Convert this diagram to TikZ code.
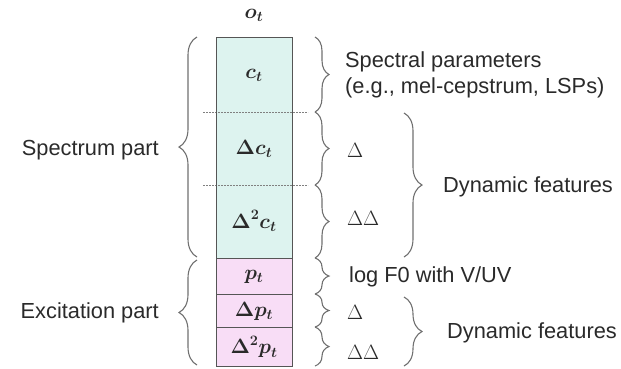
\documentclass[tikz,border=0pt]{standalone}
\usepackage{amsmath,bm}
\usepackage{fontspec}
\setmainfont{Liberation Sans}
\usetikzlibrary{decorations.pathreplacing}
\definecolor{specfill}{HTML}{DDF3EF}
\definecolor{excfill}{HTML}{F8DDF6}
\definecolor{edge}{HTML}{555555}
\definecolor{brcol}{HTML}{707070}
\definecolor{ink}{HTML}{2A2A2A}
\begin{document}
\begin{tikzpicture}[x=1pt,y=-1pt,
  txt/.style={font=\fontsize{21.8}{26}\selectfont, text=ink, inner sep=0pt},
  sym/.style={font=\fontsize{21}{24}\selectfont, text=ink, inner sep=0pt},
  vec/.style={font=\fontsize{20.5}{24}\selectfont, text=ink, inner sep=0pt},
  cellbox/.style={draw=edge, line width=1pt},
  divider/.style={draw=gray, line width=0.6pt, dash pattern=on 2pt off 1pt},
  brc/.style={draw=brcol, line width=1.1pt, decorate,
              decoration={brace, amplitude=#1}}]
\useasboundingbox (0,0) rectangle (621,368);

% feature vector column
\path[fill=specfill] (216,37) rectangle (292,258);
\path[fill=excfill] (216,258) rectangle (292,366);
\draw[divider] (203,112) -- (308,112);
\draw[divider] (203,185) -- (308,185);
\draw[cellbox] (216,37) rectangle (292,258);
\draw[cellbox] (216,258) rectangle (292,294);
\draw[cellbox] (216,294) rectangle (292,327);
\draw[cellbox] (216,327) rectangle (292,366);

% cell labels
\node[vec] (o)   at (254,15)  {$\bm{o_t}$};
\node[vec] (c)   at (254,75)  {$\bm{c_t}$};
\node[vec] (dc)  at (254,149) {$\bm{\Delta c_t}$};
\node[vec] (ddc) at (254,221) {$\bm{\Delta^2 c_t}$};
\node[vec] (p)   at (254,277) {$\bm{p_t}$};
\node[vec] (dp)  at (254,311) {$\bm{\Delta p_t}$};
\node[vec] (ddp) at (254,347) {$\bm{\Delta^2 p_t}$};

% braces on the right of each block
\draw[brc=14pt] (315,37)  -- (315,112);
\draw[brc=14pt] (315,112) -- (315,185);
\draw[brc=14pt] (315,185) -- (315,258);
\draw[brc=14pt] (315,258) -- (315,294);
\draw[brc=14pt] (315,294) -- (315,327);
\draw[brc=14pt] (315,327) -- (315,366);
\draw[brc=18pt] (404,113) -- (404,257);
\draw[brc=18pt] (404,297) -- (404,366);

% braces on the left
\draw[brc=18pt] (197,257) -- (197,37);
\draw[brc=18pt] (197,365) -- (197,260);

% right-hand labels
\node[txt, anchor=west, align=left] (spec) at (345,75)
  {Spectral parameters\\(e.g., mel-cepstrum, LSPs)};
\node[sym, anchor=west] (d1)  at (347,150) {$\Delta$};
\node[sym, anchor=west] (dd1) at (347,218) {$\Delta\Delta$};
\node[txt, anchor=west] (dyn1) at (443,187) {Dynamic features};
\node[txt, anchor=west] (lf0) at (349,277) {log F0 with V/UV};
\node[sym, anchor=west] (d2)  at (347,312) {$\Delta$};
\node[sym, anchor=west] (dd2) at (347,352) {$\Delta\Delta$};
\node[txt, anchor=west] (dyn2) at (447,333) {Dynamic features};

% left-hand labels
\node[txt, anchor=east] (sp) at (159,150) {Spectrum part};
\node[txt, anchor=east] (ex) at (159,313) {Excitation part};
\end{tikzpicture}
\end{document}
